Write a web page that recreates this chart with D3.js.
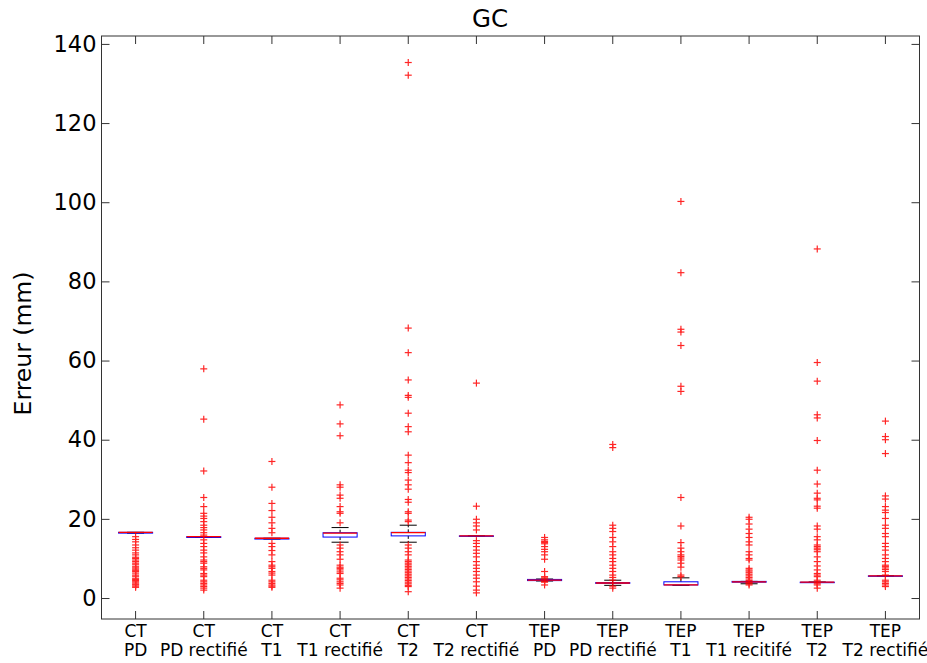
<!DOCTYPE html>
<html><head><meta charset="utf-8">
<script src="https://cdn.jsdelivr.net/npm/d3@7"></script>
<style>body{margin:0;background:#fff;} text{font-family:"DejaVu Sans",sans-serif;}</style>
</head><body>
<svg id="chart" width="927" height="663"></svg>
<script>
const title = "GC";
const yLabel = "Erreur (mm)";
const labelTop = ["CT","CT","CT","CT","CT","CT","TEP","TEP","TEP","TEP","TEP","TEP"];
const labelBottom = ["PD","PD rectifié","T1","T1 rectifié","T2","T2 rectifié","PD","PD rectifié","T1","T1 recitifé","T2","T2 rectifié"];
const categories = labelTop.map((t,i)=>t+" "+labelBottom[i]);
const yTicks = [0,20,40,60,80,100,120,140];
const medians  = [16.6,15.5,15.1,16.4,16.5,15.7,4.5,3.8,3.3,4.1,4.0,5.6];
const q1       = [16.4,15.3,14.9,15.4,15.7,15.7,4.4,3.7,3.3,4.0,4.0,5.6];
const q3       = [16.6,15.5,15.1,16.5,16.6,15.7,4.7,3.9,4.1,4.2,4.0,5.6];
const whiskLow = [16.4,15.3,14.9,14.1,14.1,15.7,4.3,3.2,3.2,3.6,4.0,5.6];
const whiskHigh= [16.6,15.5,15.1,17.8,18.4,15.7,4.8,4.5,5.1,4.2,4.0,5.6];
const outliers = [
 [15.5,14.8,14.2,13.4,12.7,12.1,11.4,10.9,10.3,10.0,9.6,9.2,8.8,8.4,7.9,7.6,7.3,7.0,6.7,6.3,5.8,5.5,5.0,4.7,4.4,4.1,3.8,3.5,3.3,3.0,2.7],
 [57.9,45.2,32.1,25.4,23.1,21.4,20.7,20.1,19.3,18.4,17.8,17.2,16.5,15.9,14.7,13.8,13.0,12.1,11.4,10.4,9.6,9.2,8.8,7.9,7.5,7.1,6.2,5.8,5.4,4.5,4.1,3.7,3.3,2.9,2.5,2.0],
 [34.5,28.0,23.9,22.1,20.4,19.0,17.6,16.5,13.8,13.0,12.0,10.9,9.2,8.3,7.9,7.5,6.7,6.3,5.8,4.5,4.1,3.7,3.3,3.0,2.7],
 [48.8,44.0,41.0,28.6,28.0,26.0,25.2,23.1,21.8,21.4,19.0,13.4,12.6,11.7,10.9,9.8,8.3,7.8,7.5,7.1,6.6,6.2,5.0,4.6,4.1,3.7,3.3,2.5],
 [135.3,132.1,68.2,62.0,55.1,51.2,50.7,46.7,43.3,42.0,36.1,34.2,32.3,31.7,29.8,28.6,27.5,24.9,24.2,21.8,21.4,19.7,19.3,13.4,12.6,11.7,10.9,9.6,9.2,8.8,8.4,8.0,7.6,7.2,6.8,6.4,6.0,5.6,5.2,4.8,4.4,4.0,3.6,3.2,2.9,1.6],
 [54.3,23.2,19.9,19.0,18.2,17.2,14.5,13.8,13.0,12.1,11.3,10.4,9.2,8.3,7.5,6.7,5.8,5.0,4.1,3.0,2.0,1.3],
 [15.3,14.7,14.3,14.0,13.7,13.0,12.3,11.7,10.9,9.8,6.7,5.4,5.1,4.8,4.2,4.0,3.3],
 [38.8,38.0,18.4,17.6,16.8,15.3,14.2,13.0,11.7,10.9,10.0,9.2,8.3,7.5,6.7,5.8,5.2,4.5,3.0,2.5],
 [100.2,82.2,67.9,67.2,63.8,53.5,52.2,25.4,18.2,14.0,12.6,11.7,10.9,10.5,10.1,9.6,8.8,7.8,5.8,5.4],
 [20.4,19.9,18.7,17.4,16.3,15.3,14.2,13.4,11.7,10.9,10.0,9.6,7.5,7.1,6.8,6.4,6.0,5.6,5.2,4.8,4.4,3.9,3.6,3.3],
 [88.2,59.5,54.8,46.3,45.5,39.8,32.3,28.8,26.5,25.2,24.8,23.2,22.7,18.2,17.4,15.5,14.7,13.4,13.0,12.6,12.2,11.7,10.4,9.2,8.1,7.1,6.2,5.8,5.4,4.5,4.0,3.6,3.3,2.5],
 [44.7,40.8,40.0,36.5,25.8,25.0,23.1,22.2,21.6,20.1,18.4,17.6,16.3,15.5,13.8,13.0,12.1,10.9,10.0,9.2,8.3,8.0,7.6,7.2,6.7,5.8,4.5,4.1,3.7,3.3,2.9]
];

const svg = d3.select("#chart");
const m = {l:101.5, r:919.5, t:36, b:619};
const x = d3.scaleBand().domain(categories).range([m.l,m.r]).paddingInner(0.5).paddingOuter(0.25);
const xc = d => x(d)+x.bandwidth()/2;
const y = d3.scaleLinear().domain([-5.3,142]).range([m.b,m.t]);
const boxW = x.bandwidth();
const capW = boxW/2;
const axisCol = "#333";

svg.append("rect").attr("x",m.l).attr("y",m.t).attr("width",m.r-m.l).attr("height",m.b-m.t)
  .attr("fill","none").attr("stroke",axisCol).attr("stroke-width",1);

const gL = svg.append("g").attr("transform",`translate(${m.l},0)`)
  .call(d3.axisLeft(y).tickValues(yTicks).tickSize(-8).tickPadding(5).tickFormat(d3.format("d")));
const gR = svg.append("g").attr("transform",`translate(${m.r},0)`)
  .call(d3.axisRight(y).tickValues(yTicks).tickSize(-8).tickFormat(""));
const gB = svg.append("g").attr("transform",`translate(0,${m.b})`)
  .call(d3.axisBottom(x).tickSize(-8).tickFormat(""));
const gT = svg.append("g").attr("transform",`translate(0,${m.t})`)
  .call(d3.axisTop(x).tickSize(-8).tickFormat(""));
[gL,gR,gB,gT].forEach(g=>{
  g.select(".domain").remove();
  g.selectAll(".tick line").attr("stroke",axisCol);
});
gL.selectAll(".tick text").attr("font-size",22.5).attr("fill","#000").attr("font-family","DejaVu Sans");

const xl = svg.append("g");
categories.forEach((c,i)=>{
  xl.append("text").attr("x",xc(c)).attr("y",637).attr("text-anchor","middle").attr("font-size",17).text(labelTop[i]);
  xl.append("text").attr("x",xc(c)).attr("y",656).attr("text-anchor","middle").attr("font-size",17).text(labelBottom[i]);
});

svg.append("text").attr("x",490).attr("y",27).attr("text-anchor","middle").attr("font-size",24.5).text(title);
svg.append("text").attr("transform",`translate(31,343.5) rotate(-90)`).attr("text-anchor","middle").attr("font-size",23.5).text(yLabel);

const gBox = svg.append("g");
categories.forEach((c,i)=>{
  const cx = xc(c);
  gBox.append("line").attr("x1",cx).attr("x2",cx).attr("y1",y(q3[i])).attr("y2",y(whiskHigh[i])).attr("stroke","#000").attr("stroke-dasharray","3,2");
  gBox.append("line").attr("x1",cx).attr("x2",cx).attr("y1",y(q1[i])).attr("y2",y(whiskLow[i])).attr("stroke","#000").attr("stroke-dasharray","3,2");
  gBox.append("line").attr("x1",cx-capW/2).attr("x2",cx+capW/2).attr("y1",y(whiskHigh[i])).attr("y2",y(whiskHigh[i])).attr("stroke","#000");
  gBox.append("line").attr("x1",cx-capW/2).attr("x2",cx+capW/2).attr("y1",y(whiskLow[i])).attr("y2",y(whiskLow[i])).attr("stroke","#000");
  gBox.append("rect").attr("x",cx-boxW/2).attr("y",y(q3[i])).attr("width",boxW).attr("height",Math.max(0.5,y(q1[i])-y(q3[i])))
    .attr("fill","none").attr("stroke","#0000ff").attr("stroke-width",1);
});
const gOut = svg.append("g").attr("stroke","#ff0000").attr("stroke-width",1.2).attr("opacity",0.85);
categories.forEach((c,i)=>{
  const cx = xc(c);
  outliers[i].forEach(v=>{
    const yy = y(v);
    gOut.append("line").attr("x1",cx-3.5).attr("x2",cx+3.5).attr("y1",yy).attr("y2",yy);
    gOut.append("line").attr("x1",cx).attr("x2",cx).attr("y1",yy-3.5).attr("y2",yy+3.5);
  });
});
categories.forEach((c,i)=>{
  const cx = xc(c);
  svg.append("line").attr("x1",cx-boxW/2).attr("x2",cx+boxW/2).attr("y1",y(medians[i])).attr("y2",y(medians[i]))
    .attr("stroke","#ff0000").attr("stroke-width",1.3);
});
</script>
</body></html>
